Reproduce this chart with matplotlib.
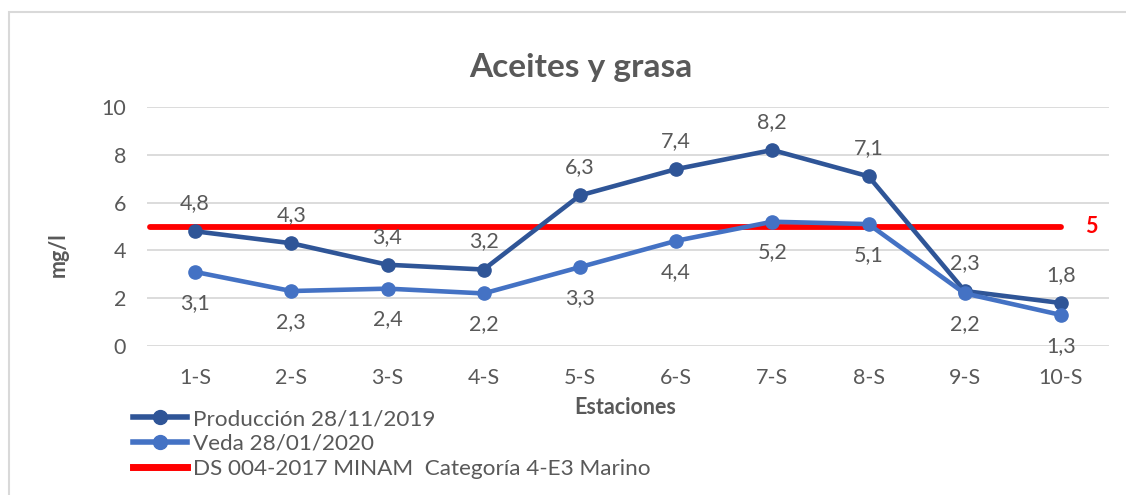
import matplotlib
matplotlib.use("Agg")
import matplotlib.pyplot as plt
from matplotlib.patches import Rectangle
from matplotlib.lines import Line2D

categories = ["1-S", "2-S", "3-S", "4-S", "5-S", "6-S", "7-S", "8-S", "9-S", "10-S"]
produccion = [4.8, 4.3, 3.4, 3.2, 6.3, 7.4, 8.2, 7.1, 2.3, 1.8]
veda = [3.1, 2.3, 2.4, 2.2, 3.3, 4.4, 5.2, 5.1, 2.2, 1.3]
limite = 5
yticks = [0, 2, 4, 6, 8, 10]

c_prod = "#2F5597"
c_veda = "#4472C4"
c_red = "#FF0000"
c_text = "#595959"
plt.rcParams['font.family'] = ['Lato', 'DejaVu Sans']
fs = 15.5

fig = plt.figure(figsize=(11.26, 4.95), dpi=100)
fig.patches.append(Rectangle((9/1126, -0.1), 1.2, 1 - 12/495 + 0.1, transform=fig.transFigure,
                             fill=False, edgecolor="#D9D9D9", linewidth=1.5))
ax = fig.add_axes([147/1126, 1 - 346/495, (1109 - 147)/1126, (346 - 107)/495])
x = list(range(len(categories)))
ax.set_xlim(-0.5, len(categories) - 0.5)
ax.set_ylim(0, 10)
ax.set_yticks(yticks)
ax.set_yticklabels([str(v) for v in yticks])
ax.set_xticks(x)
ax.set_xticklabels(categories)
ax.grid(axis="y", color="#D9D9D9", linewidth=1.3)
ax.set_axisbelow(True)
for s in ax.spines.values():
    s.set_visible(False)
ax.tick_params(length=0, labelsize=fs, labelcolor=c_text)
ax.tick_params(axis="x", pad=16)
ax.tick_params(axis="y", pad=15)

ax.plot([-0.47, len(categories) - 1.0], [limite, limite], color=c_red, linewidth=4.2, solid_capstyle="round", zorder=2)
l1, = ax.plot(x, produccion, color=c_prod, linewidth=3.3, marker="o", markersize=9.5, zorder=3)
l2, = ax.plot(x, veda, color=c_veda, linewidth=3.3, marker="o", markersize=9.5, zorder=3)

for xi, v in zip(x, produccion):
    ax.annotate(f"{v:.1f}".replace(".", ","), (xi, v), xytext=(0, 13), textcoords="offset points",
                ha="center", va="bottom", fontsize=fs, color=c_text)
for xi, v in zip(x, veda):
    ax.annotate(f"{v:.1f}".replace(".", ","), (xi, v), xytext=(0, -15), textcoords="offset points",
                ha="center", va="top", fontsize=fs, color=c_text)
ax.annotate(str(limite), (len(categories) - 1, limite), xytext=(22, 0), textcoords="offset points",
            ha="center", va="center", fontsize=fs, color=c_red, fontweight="bold")

fig.text(581/1126, 1 - 68/495, "Aceites y grasa", ha="center", va="center", fontsize=24,
         fontweight="bold", color=c_text)
fig.text(58/1126, 1 - 255/495, "mg/l", ha="center", va="center", rotation=90, fontsize=fs,
         fontweight="bold", color=c_text)
fig.text(625/1126, 1 - 408/495, "Estaciones", ha="center", va="center", fontsize=fs,
         fontweight="bold", color=c_text)

h1 = Line2D([], [], color=c_prod, linewidth=4, marker="o", markersize=10)
h2 = Line2D([], [], color=c_veda, linewidth=4, marker="o", markersize=10)
h3 = Line2D([], [], color=c_red, linewidth=5)
leg = fig.legend([h1, h2, h3], ["Producción 28/11/2019", "Veda 28/01/2020", "DS 004-2017 MINAM  Categoría 4-E3 Marino"],
                 loc="upper left", bbox_to_anchor=(133/1126, 1 - 409/495), frameon=False,
                 fontsize=16.2, handlelength=2.4, handletextpad=0.25, labelspacing=0.22,
                 borderpad=0, borderaxespad=0)
for t in leg.get_texts():
    t.set_color(c_text)

fig.savefig("out.png", dpi=100)
